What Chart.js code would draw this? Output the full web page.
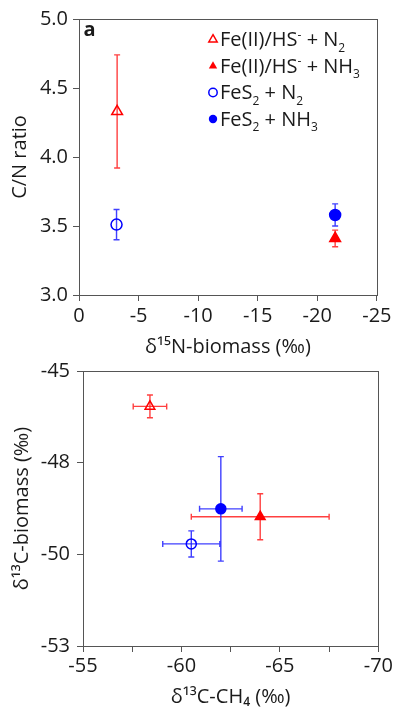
<!DOCTYPE html>
<html>
<head>
<meta charset="utf-8">
<script src="https://cdn.jsdelivr.net/npm/chart.js@4.4.1/dist/chart.umd.min.js"></script>
<style>
  body { margin: 0; background: #fff; }
  #wrap { position: relative; width: 395px; height: 708px; }
  canvas { position: absolute; left: 0; }
</style>
</head>
<body>
<div id="wrap">
  <canvas id="graficaA" width="395" height="362" style="top:0"></canvas>
  <canvas id="graficaB" width="395" height="368" style="top:340px"></canvas>
</div>
<script>
// series order: Fe(II)/HS- + N2, Fe(II)/HS- + NH3, FeS2 + N2, FeS2 + NH3
const seriesNames = ['Fe(II)/HS^- + N_2', 'Fe(II)/HS^- + NH_3', 'FeS_2 + N_2', 'FeS_2 + NH_3'];

// panel a
const d15N = [-3.2, -21.5, -3.15, -21.5];
const cnRatio = [4.33, 3.41, 3.51, 3.58];
const cnErr = [0.41, 0.06, 0.11, 0.08];

// panel b
const d13CH4 = [-58.4, -64.0, -60.5, -62.0];
const d13CH4Err = [0.85, 3.5, 1.45, 1.08];
const d13Cbio = [-46.03, -49.24, -50.03, -49.01];
const d13CbioErr = [0.33, 0.67, 0.38, 1.52];

// ticks
const ticksXA = [0, -5, -10, -15, -20, -25];
const ticksYA = [3.0, 3.5, 4.0, 4.5, 5.0];
const ticksXB = [-55, -57.5, -60, -62.5, -65, -67.5, -70];
const ticksYB = [-53, -50.333, -47.667, -45];

const RED = '#ff0000';
const BLUE = '#0000ff';
const frameColor = '#555555';
const textColor = '#1a1a1a';
const FONT = '"Open Sans", "DejaVu Sans", sans-serif';

const markerStyle = [
  { style: 'triangle', color: RED, filled: false },
  { style: 'triangle', color: RED, filled: true },
  { style: 'circle', color: BLUE, filled: false },
  { style: 'circle', color: BLUE, filled: true }
];

// draws text with ^x (superscript) and _x (subscript)
function drawRich(ctx, str, x, y, size) {
  let i = 0;
  let run = '';
  const flush = () => {
    if (!run) return;
    ctx.font = `${size}px ${FONT}`;
    ctx.fillText(run, x, y);
    x += ctx.measureText(run).width;
    run = '';
  };
  while (i < str.length) {
    const ch = str[i];
    if ((ch === '^' || ch === '_') && i + 1 < str.length) {
      flush();
      const t = str[i + 1];
      ctx.font = `${Math.round(size * 0.62)}px ${FONT}`;
      ctx.fillText(t, x, y + (ch === '_' ? size * 0.28 : -size * 0.36));
      x += ctx.measureText(t).width;
      i += 2;
      continue;
    }
    run += ch;
    i++;
  }
  flush();
}

function drawMarker(ctx, m, x, y, r) {
  ctx.beginPath();
  if (m.style === 'circle') {
    ctx.arc(x, y, r, 0, Math.PI * 2);
  } else {
    for (let k = 0; k < 3; k++) {
      const a = k * Math.PI * 2 / 3;
      const px = x + Math.sin(a) * r * 1.1;
      const py = y - Math.cos(a) * r * 1.1;
      if (k === 0) ctx.moveTo(px, py); else ctx.lineTo(px, py);
    }
    ctx.closePath();
  }
  if (m.filled) {
    ctx.fillStyle = m.color;
    ctx.fill();
  } else {
    ctx.strokeStyle = m.color;
    ctx.lineWidth = 1.5;
    ctx.stroke();
  }
}

const framePlugin = {
  id: 'frame',
  beforeDatasetsDraw(chart) {
    const { ctx, chartArea: a } = chart;
    ctx.save();
    ctx.strokeStyle = frameColor;
    ctx.lineWidth = 1;
    ctx.strokeRect(Math.round(a.left) + 0.5, Math.round(a.top) + 0.5,
      Math.round(a.right - a.left), Math.round(a.bottom - a.top));
    ctx.restore();
  }
};

// error bars through the chart scales
const errorBarPlugin = {
  id: 'errorBars',
  beforeDatasetsDraw(chart) {
    const { ctx } = chart;
    const xs = chart.scales.x, ys = chart.scales.y;
    const cap = 3;
    ctx.save();
    ctx.lineWidth = 1.4;
    chart.data.datasets.forEach(ds => {
      ctx.strokeStyle = ds.errColor;
      ds.data.forEach((p, i) => {
        const px = xs.getPixelForValue(p.x);
        const py = ys.getPixelForValue(p.y);
        if (ds.yErr) {
          const t = ys.getPixelForValue(p.y + ds.yErr[i]);
          const b = ys.getPixelForValue(p.y - ds.yErr[i]);
          ctx.beginPath();
          ctx.moveTo(px, t); ctx.lineTo(px, b);
          ctx.moveTo(px - cap, t); ctx.lineTo(px + cap, t);
          ctx.moveTo(px - cap, b); ctx.lineTo(px + cap, b);
          ctx.stroke();
        }
        if (ds.xErr) {
          const l = xs.getPixelForValue(p.x + ds.xErr[i]);
          const r = xs.getPixelForValue(p.x - ds.xErr[i]);
          ctx.beginPath();
          ctx.moveTo(l, py); ctx.lineTo(r, py);
          ctx.moveTo(l, py - cap); ctx.lineTo(l, py + cap);
          ctx.moveTo(r, py - cap); ctx.lineTo(r, py + cap);
          ctx.stroke();
        }
      });
    });
    ctx.restore();
  }
};

// panel letter + (panel a) legend
const annotPlugin = {
  id: 'annot',
  afterDraw(chart, args, opts) {
    const { ctx } = chart;
    ctx.save();
    ctx.fillStyle = textColor;
    ctx.textBaseline = 'alphabetic';
    ctx.font = `bold 20px ${FONT}`;
    ctx.fillText(opts.letter, opts.lx, opts.ly);
    if (opts.legend) {
      const rowY = [39.5, 66, 92.5, 119];
      seriesNames.forEach((name, i) => {
        drawMarker(ctx, markerStyle[i], 213, rowY[i], markerStyle[i].style === 'circle' ? 4.2 : 4.4);
        ctx.fillStyle = textColor;
        drawRich(ctx, name, 220, rowY[i] + 6.5, 20);
      });
    }
    ctx.restore();
  }
};

function makeDatasets(xv, yv, xe, ye, rCircle, rTri) {
  return seriesNames.map((name, i) => {
    const m = markerStyle[i];
    return {
      label: name,
      data: xv.map((v, k) => k === i ? { x: v, y: yv[k] } : null).filter(p => p),
      pointStyle: m.style,
      pointRadius: m.style === 'circle' ? rCircle : rTri,
      pointBorderWidth: 1.5,
      borderColor: m.color,
      backgroundColor: m.filled ? m.color : 'rgba(0,0,0,0)',
      errColor: m.color === RED ? 'rgba(255,30,30,0.85)' : 'rgba(30,30,255,0.85)',
      xErr: xe ? [xe[i]] : null,
      yErr: ye ? [ye[i]] : null
    };
  });
}

function axisCommon(tickPad) {
  return {
    type: 'linear',
    border: { display: false },
    grid: { drawOnChartArea: false, drawTicks: true, tickLength: 6, color: frameColor, tickColor: frameColor, tickWidth: 1 },
    ticks: { padding: tickPad, color: textColor, font: { family: FONT, size: 20 }, autoSkip: false, maxRotation: 0 }
  };
}

Chart.defaults.font.family = FONT;

document.addEventListener('DOMContentLoaded', () => {

  const canvasA = document.getElementById('graficaA');
  const xA = axisCommon(3.5);
  Object.assign(xA, {
    reverse: true, min: -25, max: 0,
    afterBuildTicks: s => { s.ticks = ticksXA.map(v => ({ value: v })); },
    afterFit: s => { s.height = 67; },
    title: { display: true, text: 'δ¹⁵N-biomass (‰)', color: textColor, font: { family: FONT, size: 20, lineHeight: 1 }, padding: { top: 0, bottom: 4.5 } }
  });
  xA.ticks.callback = v => String(v);
  const yA = axisCommon(5);
  Object.assign(yA, {
    min: 3, max: 5,
    afterBuildTicks: s => { s.ticks = ticksYA.map(v => ({ value: v })); },
    afterFit: s => { s.width = 79; },
    title: { display: true, text: 'C/N ratio', color: textColor, font: { family: FONT, size: 20, lineHeight: 1 }, padding: { top: 10, bottom: 0 } }
  });
  yA.ticks.callback = v => v.toFixed(1);

  new Chart(canvasA.getContext('2d'), {
    type: 'scatter',
    data: { datasets: makeDatasets(d15N, cnRatio, null, cnErr, 5.5, 6.2) },
    options: {
      responsive: false, animation: false, devicePixelRatio: 1,
      layout: { padding: { top: 19, right: 18, left: 0, bottom: 0 } },
      scales: { x: xA, y: yA },
      plugins: {
        legend: { display: false }, tooltip: { enabled: false },
        annot: { letter: 'a', lx: 83.5, ly: 36, legend: true }
      }
    },
    plugins: [framePlugin, errorBarPlugin, annotPlugin]
  });

  const canvasB = document.getElementById('graficaB');
  const xB = axisCommon(2);
  Object.assign(xB, {
    reverse: true, min: -70, max: -55,
    afterBuildTicks: s => { s.ticks = ticksXB.map(v => ({ value: v })); },
    afterFit: s => { s.height = 62; },
    title: { display: true, text: 'δ¹³C-CH₄ (‰)', color: textColor, font: { family: FONT, size: 20, lineHeight: 1 }, padding: { top: 0, bottom: 1 } }
  });
  xB.ticks.callback = v => (v % 5 === 0 ? String(v) : '');
  const yB = axisCommon(7);
  Object.assign(yB, {
    min: -53, max: -45,
    afterBuildTicks: s => { s.ticks = ticksYB.map(v => ({ value: v })); },
    afterFit: s => { s.width = 83; },
    title: { display: true, text: 'δ¹³C-biomass (‰)', color: textColor, font: { family: FONT, size: 20, lineHeight: 1 }, padding: { top: 12, bottom: 0 } }
  });
  yB.ticks.callback = v => String(Math.round(v));

  new Chart(canvasB.getContext('2d'), {
    type: 'scatter',
    data: { datasets: makeDatasets(d13CH4, d13Cbio, d13CH4Err, d13CbioErr, 5, 5.6) },
    options: {
      responsive: false, animation: false, devicePixelRatio: 1,
      layout: { padding: { top: 31, right: 15, left: 0, bottom: 0 } },
      scales: { x: xB, y: yB },
      plugins: {
        legend: { display: false }, tooltip: { enabled: false },
        annot: { letter: 'b', lx: 87.5, ly: 393, legend: false }
      }
    },
    plugins: [framePlugin, errorBarPlugin, annotPlugin]
  });
});
</script>
</body>
</html>
